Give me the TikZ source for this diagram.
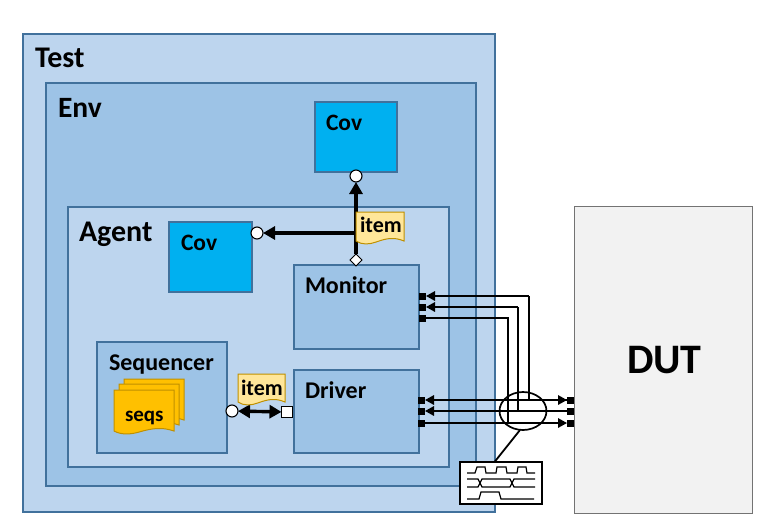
\documentclass[tikz,border=0pt]{standalone}
\usepackage{fontspec}
\setmainfont{Carlito}
\usetikzlibrary{arrows.meta,shapes.geometric,calc}
\definecolor{lite}{HTML}{BDD5EE}
\definecolor{mid}{HTML}{9DC3E6}
\definecolor{edge}{HTML}{41719C}
\definecolor{cy}{HTML}{00B0F0}
\definecolor{dutf}{HTML}{F2F2F2}
\definecolor{gold}{HTML}{FFC000}
\definecolor{goldl}{HTML}{FFE699}
\definecolor{goldd}{HTML}{BF9000}
\tikzset{
 x=1pt,y=-1pt,
 every node/.style={outer sep=0pt},
 blk/.style={draw=edge,line width=1.3pt,inner sep=0pt,anchor=north west},
 lbl/.style={font=\bfseries\fontsize{#1}{#1}\selectfont,inner sep=0pt,text=black,anchor=base west},
 pin/.style={fill=black,draw=none,minimum size=7pt,inner sep=0pt},
 port/.style={circle,draw=black,fill=white,line width=1.1pt,minimum size=12pt,inner sep=0pt},
 sq/.style={draw=black,fill=white,line width=1.1pt,minimum size=11pt,inner sep=0pt},
 dia/.style={diamond,draw=black,fill=white,line width=.9pt,minimum size=12pt,inner sep=0pt},
 thick line/.style={line width=3.4pt,black},
 bus/.style={line width=1.6pt,black},
 tipL/.style={-{Triangle[length=12pt,width=13pt]}},
 tipS/.style={-{Triangle[length=9pt,width=9.5pt]}},
 doc/.style={draw=goldd,line width=1pt,fill=#1},
 wave/.style={line width=1.2pt,black},
}
\newcommand{\docshape}[5]{% x y w h color
 \path[doc=#5] (#1,#2) -- ++(#3,0) -- ++(0,#4)
   .. controls ($(#1,#2)+(0.8*#3,#4-4)$) and ($(#1,#2)+(0.65*#3,#4-3)$) .. ($(#1,#2)+(0.42*#3,#4+1)$)
   .. controls ($(#1,#2)+(0.28*#3,#4+3.5)$) and ($(#1,#2)+(0.12*#3,#4+4)$) .. ($(#1,#2)+(0,#4)$) -- cycle;}
\begin{document}
\begin{tikzpicture}
\useasboundingbox (0,0) rectangle (778,514);
\fill[white] (0,0) rectangle (778,514);
\node[blk,fill=lite,minimum width=472pt,minimum height=478pt] (test) at (23,34) {};
\node[blk,fill=mid,minimum width=430pt,minimum height=403pt] (env) at (46,83) {};
\node[blk,fill=lite,minimum width=381pt,minimum height=260pt] (agent) at (68,207) {};
\node[blk,fill=cy,minimum width=82pt,minimum height=70pt] (cov1) at (315,102) {};
\node[blk,fill=cy,minimum width=83pt,minimum height=70pt] (cov2) at (169,222) {};
\node[blk,fill=mid,minimum width=125pt,minimum height=84pt] (mon) at (294,265) {};
\node[blk,fill=mid,minimum width=125pt,minimum height=83pt] (drv) at (294,370) {};
\node[blk,fill=mid,minimum width=130pt,minimum height=111pt] (seq) at (97,342) {};
\node[anchor=north west,draw=black!55,fill=dutf,line width=.8pt,minimum width=178pt,minimum height=307pt,inner sep=0pt] (dut) at (574,206) {};
\node[lbl=30] (tTest) at (35,67) {Test};
\node[lbl=29.5] (tEnv) at (58,117) {Env};
\node[lbl=30] (tAgent) at (79,241) {Agent};
\node[lbl=23.5] (tCov1) at (326,130) {Cov};
\node[lbl=23.5] (tCov2) at (181,250) {Cov};
\node[lbl=24] (tMon) at (305,293) {Monitor};
\node[lbl=24] (tDrv) at (305,398) {Driver};
\node[lbl=24] (tSeq) at (109,370) {Sequencer};
\node[lbl=42] (tDut) at (627,373) {DUT};
% seqs documents
\docshape{124}{379}{60}{41}{gold}
\docshape{119}{384}{60}{41}{gold}
\docshape{114}{390}{60}{41}{gold}
\node[lbl=21] (tSeqs) at (125,421) {seqs};
% ports
\node[port] (pc1) at (356,176) {};
\node[port] (pc2) at (257,233) {};
\node[dia] (pd) at (356,260) {};
\coordinate (junc) at (356,233);
\draw[thick line] (pd) -- (junc);
\draw[thick line,tipL] (junc) -- (pc1);
\draw[thick line,tipL] (junc) -- (pc2);
\docshape{356}{212}{48}{29}{goldl}
\node[lbl=22] (tItem1) at (360,232) {item};
% seq - driver
\node[port] (ps) at (232,411) {};
\node[sq] (pq) at (287,412) {};
\draw[thick line,{Triangle[length=12pt,width=13pt]}-{Triangle[length=12pt,width=13pt]}] (ps) -- (pq);
\docshape{238}{374}{47}{28}{goldl}
\node[lbl=22] (tItem2) at (241,395) {item};
% pins
\foreach \n/\x/\y in {m1/422.5/296,m2/422.5/307,m3/422.5/318,d1/421.5/400,d2/421.5/411,d3/421.5/423,u1/570.5/400,u2/570.5/411,u3/570.5/423}
  \node[pin] (\n) at (\x,\y) {};
% monitor bus
\coordinate (c1a) at (529,296); \coordinate (c1b) at (529,400);
\coordinate (c2a) at (518,307); \coordinate (c2b) at (518,411);
\coordinate (c3a) at (508,318); \coordinate (c3b) at (508,423);
\draw[bus,tipS] (c1a) -- (m1.east);
\draw[bus,line join=miter] (c1a) -- (c1b) -- (u1.west);
\draw[bus,tipS] (c1b) -- (u1.west);
\draw[bus,tipS] (c2a) -- (m2.east);
\draw[bus] (c2a) -- (c2b) -- (u2.west);
\draw[bus] (m3.east) -- (c3a) -- (c3b);
% driver bus
\draw[bus,tipS] (c1b) -- (d1.east);
\draw[bus,tipS] (c2b) -- (d2.east);
\draw[bus,tipS] (d3.east) -- (u3.west);
% ellipse
\node[ellipse,draw=black,line width=1.7pt,minimum width=47pt,minimum height=38pt,inner sep=0pt] (elp) at (523,411) {};
% waveform box
\node[anchor=north west,draw=black,fill=white,line width=1.2pt,minimum width=82pt,minimum height=42pt,inner sep=0pt] (wbox) at (460,462) {};
\draw[line width=1.8pt] ($(elp.south)+(-3,0)$) -- ($(wbox.north)+(-6.5,0)$);
\draw[wave] (467,473) -- (475,473) -- (477,467) -- (485,467) -- (486,473) -- (496,473) -- (497,467) -- (506,467) -- (507,473) -- (517,473) -- (518,467) -- (526,467) -- (527,473) -- (535,473);
\draw[wave] (467,479) -- (478,479) -- (482,487) -- (510,487) -- (514,479) -- (535,479);
\draw[wave] (467,487) -- (478,487) -- (482,479) -- (510,479) -- (514,487) -- (535,487);
\draw[wave] (467,499) -- (479,499) -- (481,492) -- (499,492) -- (501,499) -- (534,499);
\end{tikzpicture}
\end{document}
